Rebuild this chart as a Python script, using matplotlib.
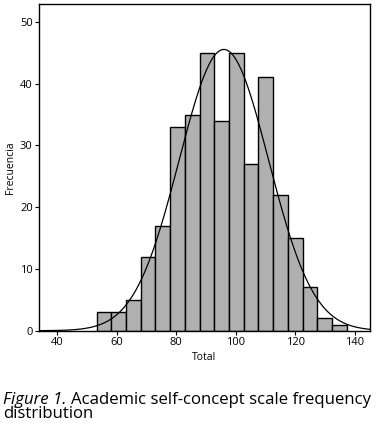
import numpy as np
import matplotlib
matplotlib.use("Agg")
import matplotlib.pyplot as plt

# Data
counts = [3, 3, 5, 12, 17, 33, 35, 45, 34, 45, 27, 41, 22, 15, 7, 2, 1]
bin_start = 53.3
bin_end = 137.2
curve_mean = 96.0
curve_sd = 15.0
x_ticks = [40, 60, 80, 100, 120, 140]
y_ticks = [0, 10, 20, 30, 40, 50]

plt.rcParams['font.family'] = ['Open Sans', 'DejaVu Sans']

fig = plt.figure(figsize=(3.77, 4.30), dpi=100)
ax = fig.add_axes([39/377, 1 - 330.7/430, (370-39)/377, (330.7-4)/430])

edges = np.linspace(bin_start, bin_end, len(counts) + 1)
widths = np.diff(edges)
ax.bar(edges[:-1], counts, width=widths, align='edge', color='#b0b0b0',
       edgecolor='black', linewidth=1.0)

n = sum(counts)
bw = widths.mean()
xs = np.linspace(34, 145, 400)
ys = n * bw / (curve_sd * np.sqrt(2 * np.pi)) * np.exp(-0.5 * ((xs - curve_mean) / curve_sd) ** 2)
ax.plot(xs, ys, color='black', linewidth=0.9)

ax.set_xlim(34, 145)
ax.set_ylim(0, 52.9)
ax.set_xticks(x_ticks)
ax.set_yticks(y_ticks)
ax.tick_params(direction='out', length=3, width=0.8, labelsize=8, pad=1.5, colors='black')
for s in ax.spines.values():
    s.set_linewidth(1.0)
ax.set_xlabel('Total', fontsize=7.5, labelpad=3)
ax.set_ylabel('Frecuencia', fontsize=7.5, labelpad=3)

# Caption: fit first line to the figure width
fig.canvas.draw()
r = fig.canvas.get_renderer()
fs = 10.5
y1 = 1 - 404/430
y2 = 1 - 418.5/430
t1 = fig.text(3/377, y1, 'Figure 1.', fontsize=fs, style='italic', ha='left', va='baseline')
t2 = fig.text(0, y1, 'Academic self-concept scale frequency', fontsize=fs, ha='left', va='baseline')
w1 = t1.get_window_extent(renderer=r).width
w2 = t2.get_window_extent(renderer=r).width
target = 374 - 3
scale = target / (w1 + 4 + w2)
fs2 = fs * scale
t1.set_fontsize(fs2)
t2.set_fontsize(fs2)
bb = t1.get_window_extent(renderer=r)
t2.set_x((bb.x1 + 4 * scale) / fig.bbox.width)
fig.text(3/377, y2, 'distribution', fontsize=fs2, ha='left', va='baseline')

fig.savefig('out.png', dpi=100)
